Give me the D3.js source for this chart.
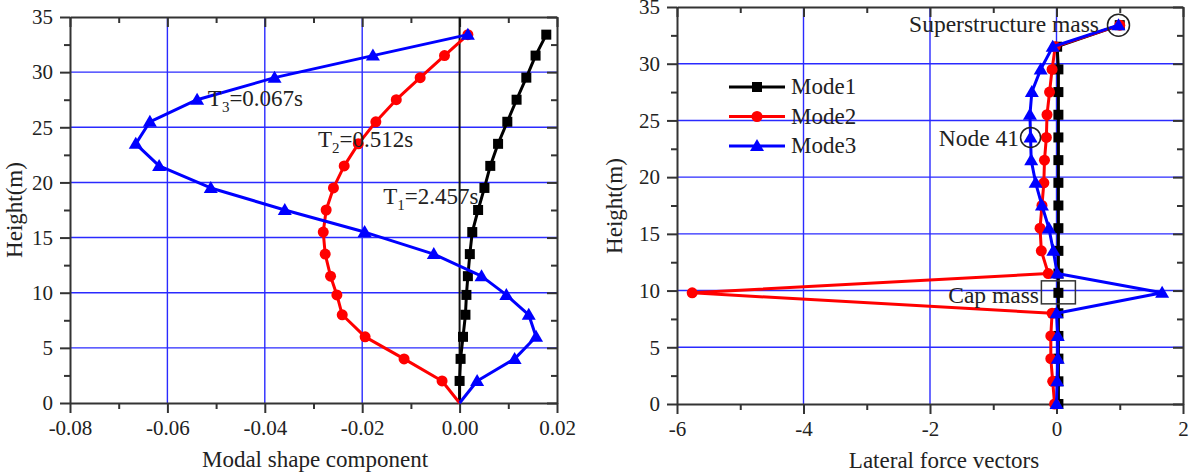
<!DOCTYPE html>
<html>
<head>
<meta charset="utf-8">
<script src="https://cdn.jsdelivr.net/npm/d3@7"></script>
<style>
  body { margin: 0; background: #fff; }
  svg text { font-family: "Liberation Serif", "Times New Roman", serif; fill: #222; }
</style>
</head>
<body>
<svg id="chart" width="1191" height="475"></svg>
<script>
// node heights (m), shared by both panels
const heights = [0, 2, 4, 6, 8, 9.8, 11.5, 13.5, 15.5, 17.5, 19.5, 21.5, 23.5, 25.5, 27.5, 29.5, 31.5, 33.4];

// left panel: modal shape components
const shape1 = [0, 0.0000, 0.0002, 0.0007, 0.0012, 0.0014, 0.0017, 0.0021, 0.0026, 0.0038, 0.0051, 0.0063, 0.0079, 0.0098, 0.0117, 0.0137, 0.0156, 0.0178];
const shape2 = [0, -0.0036, -0.0114, -0.0194, -0.0241, -0.0252, -0.0265, -0.0276, -0.0280, -0.0274, -0.0259, -0.0237, -0.0208, -0.0172, -0.0130, -0.0081, -0.0031, 0.0017];
const shape3 = [0, 0.0036, 0.0113, 0.0157, 0.0142, 0.0096, 0.0045, -0.0053, -0.0195, -0.0359, -0.0511, -0.0617, -0.0665, -0.0636, -0.0539, -0.0380, -0.0178, 0.0017];

// right panel: lateral force vectors
const force1 = [0.03, 0.03, 0.03, 0.03, 0.03, 0.03, 0.03, 0.03, 0.03, 0.03, 0.03, 0.03, 0.03, 0.03, 0.03, 0.03, 0.01, 1.0];
const force2 = [-0.03, -0.06, -0.09, -0.09, -0.07, -5.76, -0.13, -0.24, -0.26, -0.23, -0.20, -0.19, -0.16, -0.15, -0.11, -0.07, -0.02, 1.0];
const force3 = [0, 0.01, 0.02, 0.02, 0, 1.67, 0.01, -0.05, -0.12, -0.23, -0.33, -0.40, -0.41, -0.42, -0.39, -0.25, -0.06, 0.98];

const modeNames = ['Mode1', 'Mode2', 'Mode3'];
const modeColors = ['#000000', '#ff0000', '#0000ff'];
const modeShapes = ['square', 'circle', 'triangle'];

const leftTicksX = [-0.08, -0.06, -0.04, -0.02, 0.00, 0.02];
const rightTicksX = [-6, -4, -2, 0, 2];
const ticksY = [0, 5, 10, 15, 20, 25, 30, 35];

const periodLabels = [
  { sub: '3', rest: '=0.067s', x: -0.0517, y: 26.9 },
  { sub: '2', rest: '=0.512s', x: -0.0291, y: 23.2 },
  { sub: '1', rest: '=2.457s', x: -0.0157, y: 18.0 }
];

const SERIF = '"Liberation Serif", "Times New Roman", serif';
const svg = d3.select('#chart');

function marker(g, shape, color, x, y) {
  if (shape === 'square') {
    g.append('rect').attr('x', x - 5).attr('y', y - 5).attr('width', 10).attr('height', 10).attr('fill', color);
  } else if (shape === 'circle') {
    g.append('circle').attr('cx', x).attr('cy', y).attr('r', 5.5).attr('fill', color);
  } else {
    g.append('path').attr('d', `M${x},${y - 7}L${x + 7},${y + 5}L${x - 7},${y + 5}Z`).attr('fill', color);
  }
}

function drawFrame(x, y, opts) {
  const [x0, x1] = x.range();
  const [y0, y1] = y.range();
  const g = svg.append('g');

  // grid
  g.selectAll('line.hg').data(opts.gridY).enter().append('line')
    .attr('x1', x0).attr('x2', x1)
    .attr('y1', d => y(d)).attr('y2', d => y(d))
    .attr('stroke', '#2a2aff').attr('stroke-width', 1.4);
  g.selectAll('line.vg').data(opts.gridX).enter().append('line')
    .attr('x1', d => x(d)).attr('x2', d => x(d))
    .attr('y1', y0).attr('y2', y1)
    .attr('stroke', '#2a2aff').attr('stroke-width', 1.4);

  const fmt = d => opts.fmt(d).replace('\u2212', '-');
  const axes = [
    { ax: d3.axisBottom(x).tickValues(opts.ticksX).tickFormat(fmt).tickSize(10), t: `translate(0,${y0})`, labels: true, minor: d3.axisBottom(x).tickValues(opts.minorX).tickSize(6) },
    { ax: d3.axisTop(x).tickValues(opts.ticksX).tickSize(-10), t: `translate(0,${y1})`, labels: false, minor: d3.axisTop(x).tickValues(opts.minorX).tickSize(-6) },
    { ax: d3.axisLeft(y).tickValues(ticksY).tickFormat(d3.format('d')).tickSize(10), t: `translate(${x0},0)`, labels: true, minor: d3.axisLeft(y).tickValues(opts.minorY).tickSize(6) },
    { ax: d3.axisRight(y).tickValues(ticksY).tickSize(-10), t: `translate(${x1},0)`, labels: false, minor: d3.axisRight(y).tickValues(opts.minorY).tickSize(-6) }
  ];
  axes.forEach(a => {
    const m = g.append('g').attr('transform', a.t).call(a.minor.tickSizeOuter(0).tickFormat(''));
    m.select('.domain').remove();
    m.selectAll('line').attr('stroke', '#333').attr('stroke-width', 2);
    const ag = g.append('g').attr('transform', a.t).call(a.ax.tickSizeOuter(0).tickPadding(7));
    ag.attr('font-family', SERIF).attr('font-size', 21);
    ag.select('.domain').attr('stroke', '#333').attr('stroke-width', 2);
    ag.selectAll('line').attr('stroke', '#333').attr('stroke-width', 2);
    if (a.labels) {
      ag.selectAll('text').attr('fill', '#222');
    } else {
      ag.selectAll('text').remove();
    }
  });
  return g;
}

function drawSeries(x, y, values, i, skipBase) {
  const pts = heights.map((h, k) => [x(values[k]), y(h), h]);
  const g = svg.append('g');
  g.append('path')
    .attr('d', d3.line()(pts.map(p => [p[0], p[1]])))
    .attr('fill', 'none').attr('stroke', modeColors[i]).attr('stroke-width', 3)
    .attr('stroke-linejoin', 'round');
  pts.forEach(p => {
    if (skipBase && p[2] === 0) return;
    marker(g, modeShapes[i], modeColors[i], p[0], p[1]);
  });
}

// ---------- left panel ----------
const xL = d3.scaleLinear().domain([-0.08, 0.02]).range([70, 557]);
const yL = d3.scaleLinear().domain([0, 35]).range([403, 17]);

drawFrame(xL, yL, {
  ticksX: leftTicksX,
  minorX: [-0.07, -0.05, -0.03, -0.01, 0.01],
  minorY: [2.5, 7.5, 12.5, 17.5, 22.5, 27.5, 32.5],
  gridX: [-0.06, -0.04, -0.02],
  gridY: [5, 10, 15, 20, 25, 30],
  fmt: d3.format('.2f')
});
svg.append('line')
  .attr('x1', xL(0)).attr('x2', xL(0)).attr('y1', yL(0)).attr('y2', yL(35))
  .attr('stroke', '#111').attr('stroke-width', 2);

[shape1, shape2, shape3].forEach((s, i) => drawSeries(xL, yL, s, i, true));

periodLabels.forEach(p => {
  const t = svg.append('text').attr('x', xL(p.x)).attr('y', yL(p.y)).style('font-size', '23px');
  t.append('tspan').text('T');
  t.append('tspan').attr('dy', 6).style('font-size', '15px').text(p.sub);
  t.append('tspan').attr('dy', -6).text(p.rest);
});

svg.append('text').attr('x', 315).attr('y', 467).attr('text-anchor', 'middle')
  .style('font-size', '23px').text('Modal shape component');
svg.append('text').attr('transform', 'translate(22,210) rotate(-90)').attr('text-anchor', 'middle')
  .style('font-size', '23px').text('Height(m)');

// ---------- right panel ----------
const xR = d3.scaleLinear().domain([-6, 2]).range([677, 1183]);
const yR = d3.scaleLinear().domain([0, 35]).range([404, 7]);

drawFrame(xR, yR, {
  ticksX: rightTicksX,
  minorX: [-5, -3, -1, 1],
  minorY: [2.5, 7.5, 12.5, 17.5, 22.5, 27.5, 32.5],
  gridX: [-4, -2, 0],
  gridY: [5, 10, 15, 20, 25, 30],
  fmt: d3.format('d')
});

[force1, force2, force3].forEach((s, i) => drawSeries(xR, yR, s, i, false));

// legend
const legend = svg.append('g');
modeNames.forEach((name, i) => {
  const ly = 87 + i * 29.5;
  legend.append('line').attr('x1', 729).attr('x2', 785).attr('y1', ly).attr('y2', ly)
    .attr('stroke', modeColors[i]).attr('stroke-width', 3);
  marker(legend, modeShapes[i], modeColors[i], 757, ly);
  legend.append('text').attr('x', 791).attr('y', ly + 7).style('font-size', '23px').text(name);
});

// annotations
const ann = svg.append('g');
ann.append('circle').attr('cx', xR(force3[17])).attr('cy', yR(heights[17])).attr('r', 11)
  .attr('fill', 'none').attr('stroke', '#222').attr('stroke-width', 1.5);
ann.append('text').attr('x', 1099).attr('y', 32).attr('text-anchor', 'end')
  .style('font-size', '23.5px').text('Superstructure mass');
ann.append('circle').attr('cx', xR(force3[12])).attr('cy', yR(heights[12])).attr('r', 10)
  .attr('fill', 'none').attr('stroke', '#222').attr('stroke-width', 1.5);
ann.append('text').attr('x', 1019).attr('y', 146).attr('text-anchor', 'end')
  .style('font-size', '23.5px').text('Node 41');
ann.append('rect').attr('x', xR(force1[5]) - 17).attr('y', yR(heights[5]) - 12).attr('width', 34).attr('height', 23)
  .attr('fill', 'none').attr('stroke', '#333').attr('stroke-width', 1.5);
ann.append('text').attr('x', 1039).attr('y', 303).attr('text-anchor', 'end')
  .style('font-size', '23.5px').text('Cap mass');

svg.append('text').attr('x', 944).attr('y', 468).attr('text-anchor', 'middle')
  .style('font-size', '23px').text('Lateral force vectors');
svg.append('text').attr('transform', 'translate(622,206) rotate(-90)').attr('text-anchor', 'middle')
  .style('font-size', '23px').text('Height(m)');
</script>
</body>
</html>
